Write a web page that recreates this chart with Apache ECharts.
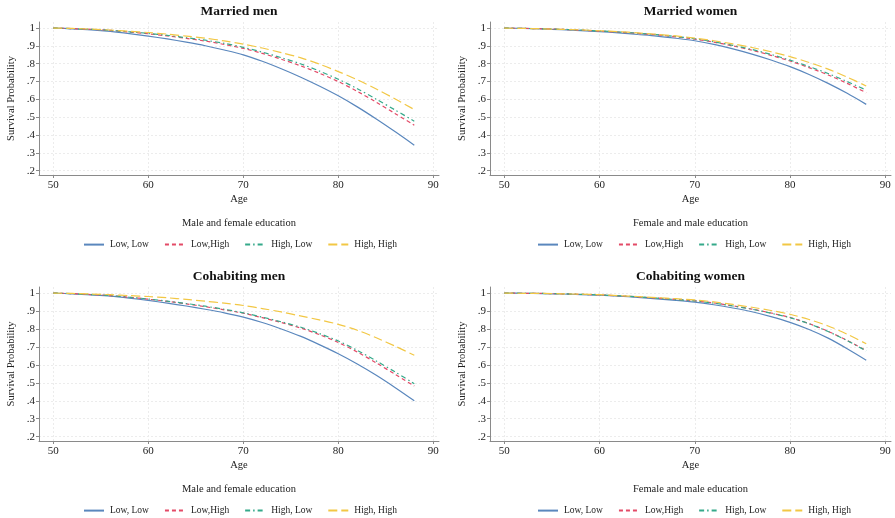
<!DOCTYPE html>
<html>
<head>
<meta charset="utf-8">
<script src="https://cdn.jsdelivr.net/npm/echarts@6/dist/echarts.min.js"></script>
<style>html,body{margin:0;padding:0;background:#fff;}#c{width:895px;height:518px;}</style>
</head>
<body>
<div id="c"></div>
<script>
// ---- data ----
const ages = [50, 52, 54, 56, 58, 60, 62, 64, 66, 68, 70, 72, 74, 76, 78, 80, 82, 84, 86, 88];
const seriesNames = ['Low, Low', 'Low,High', 'High, Low', 'High, High'];
const xTicks = [50, 60, 70, 80, 90];
const yTicks = [0.2, 0.3, 0.4, 0.5, 0.6, 0.7, 0.8, 0.9, 1.0];
const panelTitles = ['Married men', 'Married women', 'Cohabiting men', 'Cohabiting women'];
const legendTitles = ['Male and female education', 'Female and male education', 'Male and female education', 'Female and male education'];

// Married men
const mm_LL = [1.000, 0.996, 0.990, 0.981, 0.969, 0.955, 0.939, 0.921, 0.901, 0.877, 0.850, 0.814, 0.772, 0.726, 0.675, 0.620, 0.558, 0.490, 0.418, 0.343];
const mm_LH = [1.000, 0.997, 0.993, 0.987, 0.978, 0.968, 0.956, 0.942, 0.927, 0.908, 0.886, 0.858, 0.825, 0.789, 0.747, 0.700, 0.645, 0.584, 0.520, 0.455];
const mm_HL = [1.000, 0.997, 0.993, 0.987, 0.979, 0.970, 0.959, 0.946, 0.932, 0.914, 0.892, 0.865, 0.834, 0.800, 0.759, 0.713, 0.660, 0.601, 0.540, 0.478];
const mm_HH = [1.000, 0.998, 0.994, 0.989, 0.982, 0.975, 0.966, 0.955, 0.943, 0.928, 0.910, 0.888, 0.862, 0.834, 0.798, 0.756, 0.710, 0.658, 0.602, 0.543];

// Married women
const mw_LL = [1.000, 0.998, 0.995, 0.991, 0.986, 0.980, 0.973, 0.964, 0.955, 0.943, 0.929, 0.909, 0.883, 0.854, 0.821, 0.784, 0.740, 0.690, 0.634, 0.572];
const mw_LH = [1.000, 0.998, 0.996, 0.993, 0.988, 0.983, 0.977, 0.970, 0.962, 0.951, 0.938, 0.921, 0.900, 0.876, 0.847, 0.815, 0.778, 0.737, 0.690, 0.637];
const mw_HL = [1.000, 0.998, 0.996, 0.993, 0.989, 0.984, 0.978, 0.971, 0.963, 0.953, 0.940, 0.923, 0.903, 0.880, 0.852, 0.820, 0.784, 0.745, 0.700, 0.652];
const mw_HH = [1.000, 0.998, 0.996, 0.993, 0.990, 0.985, 0.980, 0.973, 0.965, 0.956, 0.944, 0.929, 0.911, 0.891, 0.867, 0.840, 0.807, 0.770, 0.725, 0.675];

// Cohabiting men
const cm_LL = [1.000, 0.996, 0.990, 0.983, 0.972, 0.959, 0.944, 0.928, 0.910, 0.890, 0.866, 0.836, 0.800, 0.760, 0.713, 0.662, 0.605, 0.542, 0.473, 0.400];
const cm_LH = [1.000, 0.997, 0.992, 0.986, 0.977, 0.966, 0.954, 0.940, 0.924, 0.907, 0.888, 0.863, 0.836, 0.806, 0.769, 0.725, 0.672, 0.611, 0.547, 0.482];
const cm_HL = [1.000, 0.997, 0.992, 0.986, 0.977, 0.967, 0.955, 0.942, 0.927, 0.910, 0.890, 0.866, 0.840, 0.811, 0.775, 0.733, 0.681, 0.622, 0.560, 0.495];
const cm_HH = [1.000, 0.998, 0.995, 0.991, 0.986, 0.981, 0.974, 0.965, 0.955, 0.944, 0.931, 0.914, 0.895, 0.873, 0.851, 0.826, 0.793, 0.751, 0.704, 0.654];

// Cohabiting women
const cw_LL = [1.000, 0.999, 0.997, 0.995, 0.992, 0.988, 0.983, 0.976, 0.968, 0.960, 0.950, 0.935, 0.917, 0.896, 0.869, 0.837, 0.797, 0.749, 0.690, 0.626];
const cw_LH = [1.000, 0.999, 0.998, 0.996, 0.993, 0.990, 0.985, 0.979, 0.972, 0.965, 0.957, 0.945, 0.929, 0.911, 0.889, 0.864, 0.830, 0.787, 0.736, 0.680];
const cw_HL = [1.000, 0.999, 0.998, 0.996, 0.993, 0.990, 0.985, 0.979, 0.972, 0.964, 0.956, 0.944, 0.928, 0.910, 0.888, 0.863, 0.829, 0.786, 0.735, 0.678];
const cw_HH = [1.000, 0.999, 0.998, 0.996, 0.994, 0.991, 0.986, 0.981, 0.975, 0.969, 0.962, 0.951, 0.937, 0.921, 0.903, 0.882, 0.853, 0.817, 0.771, 0.718];

const panels = [
  [mm_LL, mm_LH, mm_HL, mm_HH],
  [mw_LL, mw_LH, mw_HL, mw_HH],
  [cm_LL, cm_LH, cm_HL, cm_HH],
  [cw_LL, cw_LH, cw_HL, cw_HH]
];

// ---- styling ----
const FONT = '"Liberation Serif", "DejaVu Serif", serif';
const colors = ['#5a87bd', '#e34a67', '#35a98a', '#f2c744'];
const dashes = ['solid', [4, 3], [5, 3, 1.5, 3], [9, 4]];

const grids = [
  {left: 39, top: 22, width: 400, height: 153},
  {left: 490, top: 22, width: 401, height: 153},
  {left: 39, top: 287, width: 400, height: 154},
  {left: 490, top: 287, width: 401, height: 154}
];
const legendLeft = [78, 532, 78, 532];
const legendTop = [234, 234, 500, 500];

const option = {
  animation: false,
  backgroundColor: '#fff',
  grid: grids.map(g => Object.assign({containLabel: false}, g)),
  xAxis: grids.map((g, i) => ({
    type: 'value', gridIndex: i, min: 48.5, max: 90.6,
    name: 'Age', nameLocation: 'middle', nameGap: 19,
    nameTextStyle: {fontFamily: FONT, fontSize: 10.5, color: '#222'},
    axisLine: {show: true, onZero: false, lineStyle: {color: '#8a8a8a', width: 1}},
    axisTick: {show: true, length: 3, customValues: xTicks, lineStyle: {color: '#8a8a8a'}},
    axisLabel: {customValues: xTicks, fontFamily: FONT, fontSize: 11, color: '#222', margin: 5},
    splitLine: {show: true, lineStyle: {color: '#ececec', type: [2, 2], width: 1}}
  })),
  yAxis: grids.map((g, i) => ({
    type: 'value', gridIndex: i, min: 0.176, max: 1.034,
    name: 'Survival Probability', nameLocation: 'middle', nameGap: 22, nameRotate: 90,
    nameTextStyle: {fontFamily: FONT, fontSize: 10.5, color: '#222'},
    axisLine: {show: true, lineStyle: {color: '#8a8a8a', width: 1}},
    axisTick: {show: true, length: 3, customValues: yTicks, lineStyle: {color: '#8a8a8a'}},
    axisLabel: {customValues: yTicks, fontFamily: FONT, fontSize: 11, color: '#222', margin: 4,
      formatter: v => { const r = Math.round(v * 10) / 10; return r >= 1 ? '1' : ('.' + Math.round(r * 10)); }},
    splitLine: {show: true, lineStyle: {color: '#ececec', type: [2, 2], width: 1}}
  })),
  legend: grids.map((g, i) => ({
    data: seriesNames,
    left: legendLeft[i], top: legendTop[i],
    orient: 'horizontal', itemWidth: 20, itemHeight: 14, itemGap: 15,
    itemStyle: {opacity: 0},
    textStyle: {fontFamily: FONT, fontSize: 9.5, color: '#222', padding: [0, 0, 0, 1]},
    selectedMode: false
  })),
  graphic: [],
  series: []
};

panels.forEach((p, i) => {
  const g = grids[i];
  const cx = g.left + g.width / 2;
  option.graphic.push({type: 'text', x: cx, y: g.top - 10,
    style: {text: panelTitles[i], font: 'bold 13.5px ' + FONT, fill: '#111', textAlign: 'center', textVerticalAlign: 'middle'}});
  option.graphic.push({type: 'text', x: cx, y: g.top + g.height + 48,
    style: {text: legendTitles[i], font: '10.5px ' + FONT, fill: '#222', textAlign: 'center', textVerticalAlign: 'middle'}});
  p.forEach((vals, k) => {
    option.series.push({
      type: 'line', name: seriesNames[k], xAxisIndex: i, yAxisIndex: i,
      data: ages.map((a, j) => [a, vals[j]]),
      smooth: 0.3, symbol: 'none', silent: true,
      lineStyle: {color: colors[k], width: 1.2, type: dashes[k]},
      itemStyle: {color: colors[k]}, z: 2 + k
    });
  });
});

const chart = echarts.init(document.getElementById('c'), null, {renderer: 'canvas'});
chart.setOption(option);
</script>
</body>
</html>
